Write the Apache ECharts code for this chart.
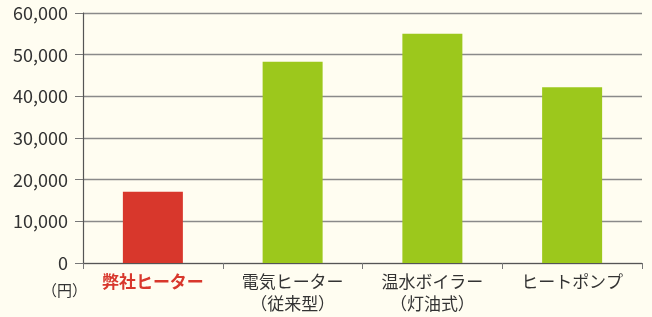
<!DOCTYPE html>
<html>
<head>
<meta charset="utf-8">
<script src="https://cdn.jsdelivr.net/npm/echarts@6/dist/echarts.min.js"></script>
<style>
  html, body { margin: 0; padding: 0; background: #fffdf1; }
  #chart { width: 652px; height: 317px; }
</style>
</head>
<body>
<div id="chart"></div>
<script>
// 暖房費の比較
const categories = ['弊社ヒーター', '電気ヒーター\n（従来型）', '温水ボイラー\n（灯油式）', 'ヒートポンプ'];
const costs = [17100, 48300, 55000, 42200];
const barColors = ['#d8372c', '#9cc81c', '#9cc81c', '#9cc81c'];

const chart = echarts.init(document.getElementById('chart'));
const font = '"Noto Sans CJK JP", "Noto Sans", sans-serif';

chart.setOption({
  backgroundColor: '#fffdf1',
  animation: false,
  grid: { left: 83, right: 10, top: 13, bottom: 54 },
  xAxis: {
    type: 'category',
    data: categories,
    axisLine: { lineStyle: { color: '#555', width: 1.2 } },
    axisTick: { show: true, length: 6, lineStyle: { color: '#777' } },
    axisLabel: {
      interval: 0,
      hideOverlap: false,
      margin: 8,
      fontFamily: font,
      fontSize: 17,
      lineHeight: 22,
      color: '#333',
      formatter: function (v, i) {
        return i === 0 ? '{r|' + v + '}' : v;
      },
      rich: {
        r: { color: '#d8372c', fontWeight: 'bold', fontSize: 17, fontFamily: font }
      }
    }
  },
  yAxis: {
    type: 'value',
    min: 0,
    max: 60000,
    interval: 10000,
    axisLine: { show: true, lineStyle: { color: '#555', width: 1.2 } },
    axisTick: { show: true, length: 8, lineStyle: { color: '#777' } },
    axisLabel: {
      margin: 15,
      fontFamily: font,
      fontSize: 18,
      color: '#333',
      formatter: v => v.toLocaleString('en-US')
    },
    splitLine: { lineStyle: { color: '#8a8a8a', width: 1.3 } }
  },
  graphic: [{
    type: 'text',
    left: 42,
    top: 283,
    style: { text: '（円）', font: '15px ' + font, fill: '#333' }
  }],
  series: [{
    type: 'bar',
    barWidth: 60,
    data: costs.map((v, i) => ({ value: v, itemStyle: { color: barColors[i] } }))
  }]
});
</script>
</body>
</html>
